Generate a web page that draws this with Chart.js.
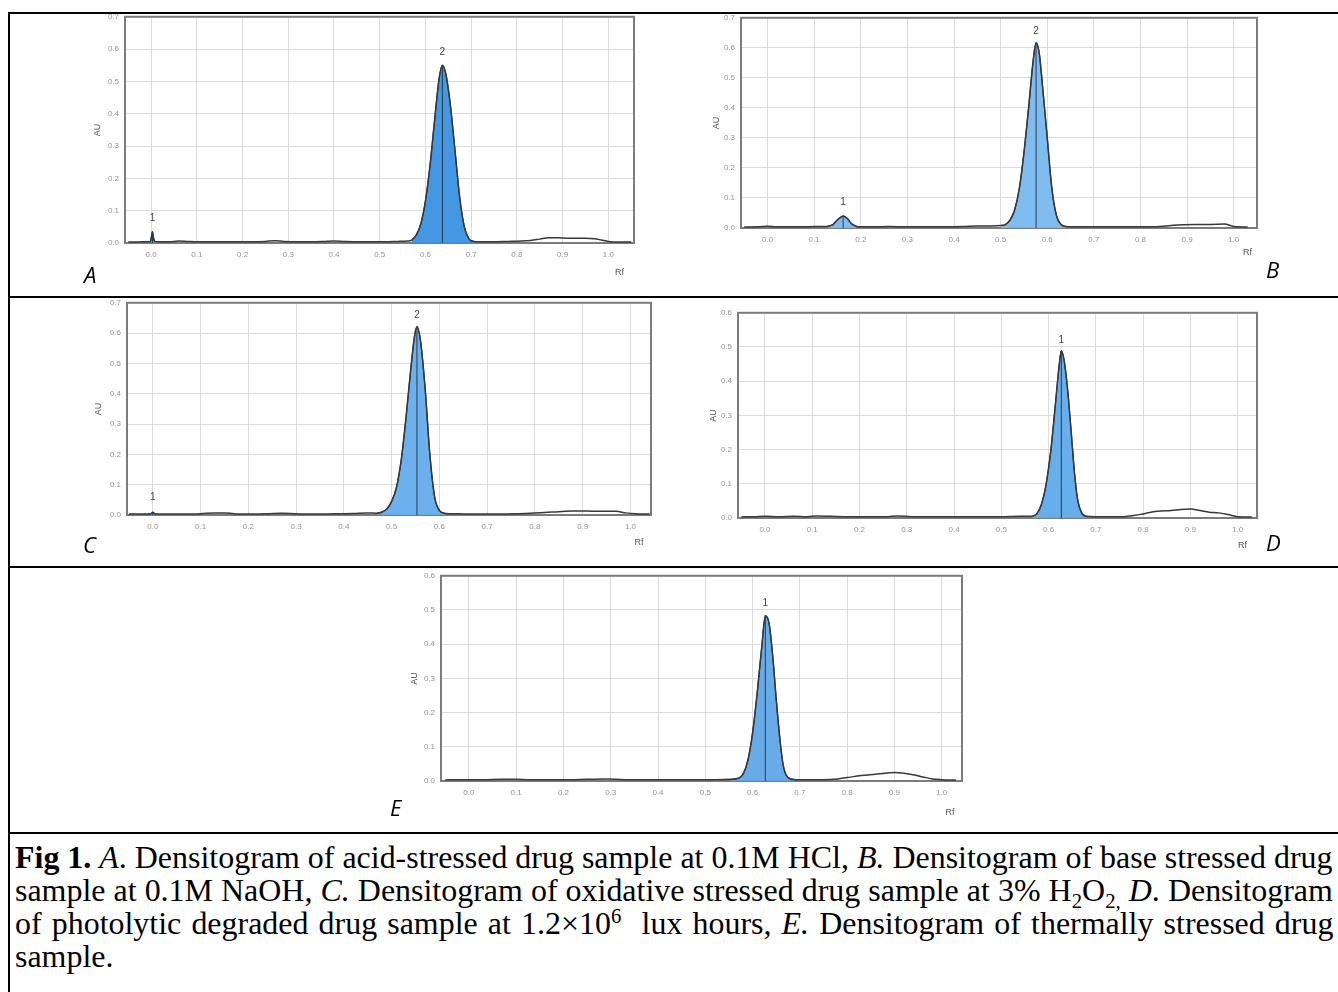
<!DOCTYPE html>
<html><head><meta charset="utf-8">
<script src="https://cdn.jsdelivr.net/npm/chart.js@4.4.1/dist/chart.umd.min.js"></script>
<style>
html,body{margin:0;padding:0;background:#fff;width:1338px;height:992px;overflow:hidden;position:relative;}
.rule{position:absolute;background:#000;}
canvas{position:absolute;}
.letter{position:absolute;font-family:"Open Sans","DejaVu Sans",sans-serif;font-style:italic;font-size:22px;color:#000;line-height:1;}
.cap{position:absolute;left:15px;font-family:"Liberation Serif","Times New Roman",serif;font-size:31px;line-height:33px;white-space:nowrap;transform-origin:0 0;color:#000;}
.cap sub,.cap sup{font-size:65%;line-height:0;}
</style></head><body>
<div class="rule" style="left:8px;top:12px;width:1330px;height:2px"></div>
<div class="rule" style="left:8px;top:12px;width:2px;height:980px"></div>
<div class="rule" style="left:8px;top:296px;width:1330px;height:2px"></div>
<div class="rule" style="left:8px;top:566px;width:1330px;height:2px"></div>
<div class="rule" style="left:8px;top:832px;width:1330px;height:2px"></div>

<canvas id="cA" width="560" height="276" style="left:85px;top:6px"></canvas>
<canvas id="cB" width="567" height="255" style="left:701px;top:7px"></canvas>
<canvas id="cC" width="575" height="260" style="left:87px;top:292px"></canvas>
<canvas id="cD" width="570" height="253" style="left:698px;top:302px"></canvas>
<canvas id="cE" width="572" height="257" style="left:401px;top:565px"></canvas>

<div class="letter" style="left:84px;top:263px">A</div>
<div class="letter" style="left:1266px;top:258px">B</div>
<div class="letter" style="left:83px;top:533px">C</div>
<div class="letter" style="left:1266px;top:531px">D</div>
<div class="letter" style="left:390px;top:796px">E</div>

<div class="cap" id="l1" style="top:841px"><b>Fig 1.</b> <i>A</i>. Densitogram of acid-stressed drug sample at 0.1M HCl, <i>B.</i> Densitogram of base stressed drug</div>
<div class="cap" id="l2" style="top:874px">sample at 0.1M NaOH, <i>C.</i> Densitogram of oxidative stressed drug sample at 3% H<sub>2</sub>O<sub>2,</sub> <i>D</i>. Densitogram</div>
<div class="cap" id="l3" style="top:907px">of photolytic degraded drug sample at 1.2×10<sup>6</sup>&nbsp; lux hours, <i>E.</i> Densitogram of thermally stressed drug</div>
<div class="cap" id="l4" style="top:940px">sample.</div>

<script>
// ---- tick labels ----
const xTickValues = [0.0,0.1,0.2,0.3,0.4,0.5,0.6,0.7,0.8,0.9,1.0];
const yTicksSeven = [0.0,0.1,0.2,0.3,0.4,0.5,0.6,0.7];
const yTicksSix = [0.0,0.1,0.2,0.3,0.4,0.5,0.6];

// ---- A: acid ----
const rfA = [-0.05,-0.03,-0.01,-0.002,0.001,0.003,0.005,0.008,0.02,0.04,0.06,0.08,0.10,0.13,0.16,0.19,0.22,0.25,0.27,0.29,0.32,0.35,0.38,0.40,0.42,0.45,0.48,0.51,0.54,0.56,0.57,0.58,0.59,0.60,0.61,0.62,0.63,0.637,0.645,0.655,0.665,0.675,0.685,0.695,0.705,0.72,0.75,0.78,0.81,0.83,0.85,0.87,0.89,0.91,0.93,0.95,0.97,0.985,1.0,1.02,1.05];
const auA = [0.003,0.003,0.004,0.004,0.02,0.035,0.018,0.005,0.004,0.004,0.006,0.005,0.004,0.004,0.004,0.004,0.004,0.005,0.007,0.005,0.004,0.004,0.005,0.006,0.005,0.004,0.004,0.004,0.005,0.006,0.009,0.025,0.06,0.13,0.24,0.38,0.51,0.55,0.52,0.42,0.28,0.14,0.05,0.013,0.005,0.004,0.004,0.005,0.006,0.008,0.012,0.016,0.016,0.015,0.015,0.015,0.013,0.009,0.005,0.003,0.003];
const peakRfA = [0.003,0.637];
const peakAuA = [0.035,0.55];
const peakNameA = ['1','2'];
const peakLabelAuA = [0.077,0.59];
const fillFromA = [-0.002,0.565];
const fillToA = [0.008,0.705];

// ---- B: base ----
const rfB = [-0.05,-0.02,0.0,0.02,0.05,0.08,0.10,0.12,0.13,0.14,0.15,0.162,0.172,0.18,0.19,0.20,0.23,0.26,0.30,0.34,0.38,0.42,0.45,0.48,0.50,0.51,0.52,0.53,0.54,0.55,0.56,0.57,0.576,0.583,0.59,0.60,0.61,0.62,0.63,0.64,0.67,0.70,0.74,0.78,0.82,0.85,0.87,0.89,0.92,0.95,0.98,1.0,1.03];
const auB = [0.003,0.004,0.006,0.004,0.004,0.004,0.005,0.005,0.006,0.011,0.027,0.04,0.03,0.014,0.006,0.004,0.004,0.005,0.004,0.004,0.004,0.005,0.007,0.007,0.008,0.011,0.026,0.06,0.13,0.25,0.40,0.56,0.617,0.58,0.47,0.30,0.13,0.04,0.011,0.005,0.004,0.004,0.004,0.004,0.004,0.006,0.009,0.011,0.012,0.012,0.013,0.005,0.003];
const peakRfB = [0.162,0.576];
const peakAuB = [0.04,0.617];
const peakNameB = ['1','2'];
const peakLabelAuB = [0.086,0.655];
const fillFromB = [0.13,0.50];
const fillToB = [0.19,0.64];

// ---- C: oxidative ----
const rfC = [-0.05,-0.02,-0.004,0.0,0.004,0.02,0.06,0.10,0.13,0.15,0.17,0.20,0.24,0.27,0.30,0.32,0.34,0.38,0.42,0.45,0.47,0.48,0.49,0.50,0.51,0.52,0.53,0.54,0.548,0.553,0.56,0.57,0.58,0.59,0.60,0.61,0.64,0.68,0.72,0.76,0.79,0.82,0.85,0.88,0.91,0.93,0.95,0.97,0.99,1.01,1.04];
const auC = [0.003,0.003,0.004,0.009,0.004,0.003,0.003,0.004,0.007,0.007,0.004,0.003,0.004,0.006,0.004,0.003,0.003,0.004,0.005,0.007,0.006,0.01,0.02,0.045,0.09,0.18,0.32,0.48,0.59,0.621,0.58,0.42,0.20,0.06,0.015,0.006,0.004,0.003,0.003,0.004,0.006,0.008,0.011,0.013,0.013,0.012,0.012,0.012,0.007,0.004,0.003];
const peakRfC = [0.0,0.553];
const peakAuC = [0.009,0.621];
const peakNameC = ['1','2'];
const peakLabelAuC = [0.059,0.66];
const fillFromC = [-0.004,0.47];
const fillToC = [0.004,0.61];

// ---- D: photolytic ----
const rfD = [-0.05,-0.02,0.0,0.03,0.06,0.09,0.11,0.14,0.18,0.22,0.26,0.28,0.31,0.35,0.40,0.45,0.50,0.54,0.565,0.575,0.585,0.595,0.605,0.615,0.622,0.627,0.633,0.64,0.648,0.655,0.662,0.67,0.68,0.70,0.73,0.76,0.78,0.80,0.83,0.86,0.88,0.90,0.92,0.94,0.96,0.98,1.0,1.03];
const auD = [0.003,0.004,0.005,0.004,0.005,0.004,0.006,0.005,0.004,0.004,0.004,0.006,0.004,0.004,0.004,0.004,0.004,0.005,0.005,0.012,0.04,0.10,0.20,0.34,0.44,0.489,0.46,0.38,0.25,0.13,0.05,0.015,0.005,0.004,0.004,0.004,0.007,0.012,0.02,0.022,0.025,0.026,0.022,0.017,0.015,0.01,0.004,0.003];
const peakRfD = [0.627];
const peakAuD = [0.489];
const peakNameD = ['1'];
const peakLabelAuD = [0.52];
const fillFromD = [0.565];
const fillToD = [0.68];

// ---- E: thermal ----
const rfE = [-0.05,-0.02,0.0,0.03,0.07,0.10,0.13,0.17,0.21,0.25,0.29,0.33,0.37,0.42,0.47,0.52,0.555,0.57,0.58,0.59,0.60,0.61,0.62,0.627,0.635,0.643,0.65,0.658,0.665,0.675,0.69,0.72,0.75,0.78,0.80,0.83,0.86,0.88,0.90,0.92,0.94,0.96,0.98,1.0,1.03];
const auE = [0.003,0.004,0.004,0.004,0.005,0.005,0.004,0.004,0.004,0.005,0.006,0.004,0.004,0.004,0.004,0.004,0.005,0.008,0.02,0.06,0.14,0.26,0.40,0.483,0.46,0.36,0.24,0.12,0.045,0.01,0.004,0.004,0.004,0.006,0.01,0.016,0.02,0.023,0.025,0.023,0.018,0.012,0.006,0.004,0.003];
const peakRfE = [0.627];
const peakAuE = [0.483];
const peakNameE = ['1'];
const peakLabelAuE = [0.52];
const fillFromE = [0.555];
const fillToE = [0.69];

const framePlugin = {
  id: 'frameAndLabels',
  beforeDatasetsDraw(chart) {
    const a = chart.chartArea, ctx = chart.ctx;
    ctx.save();
    ctx.strokeStyle = '#7c7c7c'; ctx.lineWidth = 2;
    ctx.strokeRect(a.left, a.top, a.right - a.left, a.bottom - a.top);
    ctx.restore();
  },
  afterDraw(chart) {
    const o = chart.options.plugins.frameAndLabels;
    const ctx = chart.ctx, xs = chart.scales.x, ys = chart.scales.y;
    ctx.save();
    ctx.fillStyle = '#444'; ctx.font = '10px "Liberation Sans", Arial, sans-serif';
    ctx.textAlign = 'center'; ctx.textBaseline = 'middle';
    o.names.forEach((n, i) => ctx.fillText(n, xs.getPixelForValue(o.rf[i]), ys.getPixelForValue(o.labelAu[i])));
    ctx.restore();
  }
};

function build(id, p) {
  const pts = p.rf.map((r, i) => ({x: r, y: p.au[i]}));
  const ds = [];
  p.fillFrom.forEach((f, k) => {
    ds.push({data: pts.filter(q => q.x >= f && q.x <= p.fillTo[k]), fill: 'origin',
      backgroundColor: p.fillColor, borderColor: '#2c3e50', borderWidth: 1.2,
      cubicInterpolationMode: 'monotone', pointRadius: 0, order: 3});
  });
  ds.push({data: pts, fill: false, borderColor: '#383838', borderWidth: 1.5,
    cubicInterpolationMode: 'monotone', pointRadius: 0, order: 2});
  p.peakRf.forEach((c, k) => {
    ds.push({data: [{x: c, y: 0}, {x: c, y: p.peakAu[k]}], fill: false,
      borderColor: '#2b3a4a', borderWidth: 1, pointRadius: 0, order: 1});
  });
  new Chart(document.getElementById(id), {
    type: 'line',
    data: {datasets: ds},
    options: {
      responsive: false, animation: false, devicePixelRatio: 1,
      layout: {padding: {top: p.padTop, right: p.padRight, left: 0, bottom: 0}},
      plugins: {legend: {display: false}, tooltip: {enabled: false},
        frameAndLabels: {rf: p.peakRf, labelAu: p.labelAu, names: p.names}},
      scales: {
        x: {type: 'linear', min: p.xmin, max: p.xmax,
          afterBuildTicks: ax => { ax.ticks = xTickValues.map(v => ({value: v})); },
          afterFit: ax => { ax.height = p.xh; },
          grid: {color: '#dcdcdc', drawTicks: false, lineWidth: 1},
          border: {display: false},
          ticks: {padding: 7, maxRotation: 0, autoSkip: false, color: '#959595',
            font: {size: 8, family: '"Liberation Sans", Arial, sans-serif'},
            callback: v => v.toFixed(1)},
          title: {display: true, text: p.rfText, align: 'end', color: '#555',
            font: {size: 9, family: '"Liberation Sans", Arial, sans-serif'}, padding: {top: 0, bottom: p.rfPad}}
        },
        y: {type: 'linear', min: 0, max: p.ymax,
          afterBuildTicks: ax => { ax.ticks = p.yTicks.map(v => ({value: v})); },
          afterFit: ax => { ax.width = p.yw; },
          grid: {color: '#dcdcdc', drawTicks: false, lineWidth: 1},
          border: {display: false},
          ticks: {padding: 6, color: '#959595',
            font: {size: 8, family: '"Liberation Sans", Arial, sans-serif'},
            callback: v => v.toFixed(1)},
          title: {display: true, text: 'AU', color: '#555',
            font: {size: 9, family: '"Liberation Sans", Arial, sans-serif'}, padding: {top: p.auPad, bottom: 0}}
        }
      }
    },
    plugins: [framePlugin]
  });
}

build('cA', {rf: rfA, au: auA, peakRf: peakRfA, peakAu: peakAuA, names: peakNameA, labelAu: peakLabelAuA,
  fillFrom: fillFromA, fillTo: fillToA, fillColor: 'rgba(58,145,225,0.95)', yTicks: yTicksSeven, ymax: 0.7,
  xmin: -0.057, xmax: 1.056, padTop: 4, padRight: 11, xh: 39, yw: 40, rfPad: 4, auPad: 7, rfText: 'Rf    '});
build('cB', {rf: rfB, au: auB, peakRf: peakRfB, peakAu: peakAuB, names: peakNameB, labelAu: peakLabelAuB,
  fillFrom: fillFromB, fillTo: fillToB, fillColor: 'rgba(120,185,240,0.95)', yTicks: yTicksSeven, ymax: 0.7,
  xmin: -0.057, xmax: 1.05, padTop: 4, padRight: 11, xh: 34, yw: 40, rfPad: 4, auPad: 10, rfText: 'Rf  '});
build('cC', {rf: rfC, au: auC, peakRf: peakRfC, peakAu: peakAuC, names: peakNameC, labelAu: peakLabelAuC,
  fillFrom: fillFromC, fillTo: fillToC, fillColor: 'rgba(100,172,236,0.95)', yTicks: yTicksSeven, ymax: 0.7,
  xmin: -0.054, xmax: 1.043, padTop: 4, padRight: 11, xh: 37, yw: 40, rfPad: 4, auPad: 6, rfText: 'Rf   '});
build('cD', {rf: rfD, au: auD, peakRf: peakRfD, peakAu: peakAuD, names: peakNameD, labelAu: peakLabelAuD,
  fillFrom: fillFromD, fillTo: fillToD, fillColor: 'rgba(95,170,236,0.95)', yTicks: yTicksSix, ymax: 0.6,
  xmin: -0.057, xmax: 1.041, padTop: 4, padRight: 11, xh: 37, yw: 40, rfPad: 4, auPad: 10, rfText: 'Rf    '});
build('cE', {rf: rfE, au: auE, peakRf: peakRfE, peakAu: peakAuE, names: peakNameE, labelAu: peakLabelAuE,
  fillFrom: fillFromE, fillTo: fillToE, fillColor: 'rgba(95,168,232,0.95)', yTicks: yTicksSix, ymax: 0.6,
  xmin: -0.059, xmax: 1.043, padTop: 4, padRight: 11, xh: 41, yw: 40, rfPad: 4, auPad: 8, rfText: 'Rf   '});

// caption: fit the longest line to the cell width, then justify the other full lines
(function () {
  const target = 1318;
  const ids = ['l1', 'l2', 'l3'];
  let maxW = 0;
  ids.forEach(id => { maxW = Math.max(maxW, document.getElementById(id).scrollWidth); });
  const s = target / maxW;
  ids.concat(['l4']).forEach(id => { document.getElementById(id).style.transform = 'scaleX(' + s + ')'; });
  ids.forEach(id => {
    const el = document.getElementById(id);
    const w = el.scrollWidth;
    const gaps = (el.textContent.match(/[ \u00a0]/g) || []).length;
    if (gaps > 0) el.style.wordSpacing = ((target / s - w) / gaps) + 'px';
  });
})();
</script>
</body></html>
